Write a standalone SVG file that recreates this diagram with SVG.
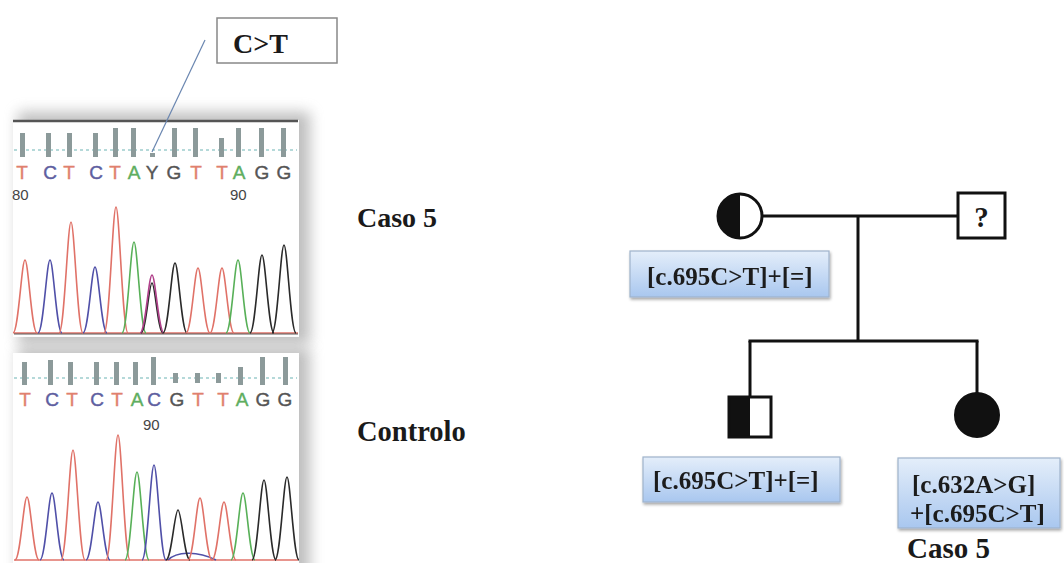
<svg xmlns="http://www.w3.org/2000/svg" xmlns:xlink="http://www.w3.org/1999/xlink" width="1064" height="563" viewBox="0 0 1064 563">
  <defs>
    <style>
      .serif { font-family: "Liberation Serif", "Times New Roman", serif; font-weight: bold; fill: #1a1a1a; }
      .base { font-family: "Liberation Sans", Arial, sans-serif; font-size: 19px; text-anchor: middle; stroke-width: 0.4; }
      .num { font-family: "Liberation Sans", Arial, sans-serif; font-size: 15px; fill: #444; }
      .bT { fill: #e0806e; stroke: #e0806e; } .bC { fill: #5e5ea0; stroke: #5e5ea0; } .bA { fill: #5fae5f; stroke: #5fae5f; } .bG { fill: #555; stroke: #555; }
      .pk { fill: none; stroke-width: 1.6; }
      .pR { stroke: #e07268; } .pB { stroke: #5050a8; } .pG { stroke: #58b058; } .pK { stroke: #2a2a2a; } .pM { stroke: #b0408a; }
      .bar { fill: #8c9a9a; }
      .dash { stroke: #6cb4b4; stroke-width: 1.2; stroke-dasharray: 3 3; }
      .ped { stroke: #111; stroke-width: 3; fill: none; }
      .lbl { fill: url(#lblFill); stroke: #9fb3cb; stroke-width: 1.2; }
    </style>
    <linearGradient id="lblFill" x1="0" y1="0" x2="0" y2="1">
      <stop offset="0" stop-color="#e4eefa"/>
      <stop offset="1" stop-color="#a9c7ef"/>
    </linearGradient>
    <filter id="soft" x="-20%" y="-20%" width="140%" height="140%">
      <feGaussianBlur stdDeviation="7"/>
    </filter>
    <filter id="lblShadow" x="-10%" y="-20%" width="120%" height="150%">
      <feGaussianBlur in="SourceAlpha" stdDeviation="1.5"/>
      <feOffset dx="1" dy="2"/>
      <feComponentTransfer><feFuncA type="linear" slope="0.35"/></feComponentTransfer>
      <feMerge><feMergeNode/><feMergeNode in="SourceGraphic"/></feMerge>
    </filter>
    <!-- unit trace peak: base at y=0, apex at (0,-1) -->
    <path id="pk" d="M-1,0 C-0.55,0 -0.28,-1 0,-1 C0.28,-1 0.55,0 1,0" vector-effect="non-scaling-stroke"/>
    <clipPath id="clipTop"><rect x="13" y="121" width="286" height="215"/></clipPath>
    <clipPath id="clipBot"><rect x="13" y="353" width="286" height="210"/></clipPath>
  </defs>

  <rect width="1064" height="563" fill="#ffffff"/>

  <!-- sequencing traces -->
  <g id="trace-caso5">
    <rect x="18" y="112" width="292" height="232" fill="#8a8a8a" opacity="0.55" filter="url(#soft)"/>
    <rect x="13" y="120" width="286" height="217" fill="#ffffff"/>
    <line x1="13" y1="121" x2="298" y2="121" stroke="#555" stroke-width="2.5"/>
    <line x1="14" y1="150" x2="297" y2="150" class="dash"/>
    <g>
      <rect class="bar" x="20" y="133" width="5" height="24"/>
      <rect class="bar" x="46" y="133" width="5" height="24"/>
      <rect class="bar" x="67" y="133" width="5" height="24"/>
      <rect class="bar" x="93" y="133" width="5" height="24"/>
      <rect class="bar" x="113" y="128" width="5" height="29"/>
      <rect class="bar" x="131" y="128" width="5" height="29"/>
      <rect class="bar" x="150" y="153" width="5" height="4"/>
      <rect class="bar" x="172" y="128" width="5" height="29"/>
      <rect class="bar" x="193" y="128" width="5" height="29"/>
      <rect class="bar" x="219" y="138" width="5" height="19"/>
      <rect class="bar" x="236" y="128" width="5" height="29"/>
      <rect class="bar" x="259" y="128" width="5" height="29"/>
      <rect class="bar" x="281" y="128" width="5" height="29"/>
    </g>
    <g class="base">
      <text x="22" y="179" class="bT">T</text>
      <text x="50" y="179" class="bC">C</text>
      <text x="69" y="179" class="bT">T</text>
      <text x="96" y="179" class="bC">C</text>
      <text x="115" y="179" class="bT">T</text>
      <text x="134" y="179" class="bA">A</text>
      <text x="152" y="179" class="bG">Y</text>
      <text x="174" y="179" class="bG">G</text>
      <text x="196" y="179" class="bT">T</text>
      <text x="222" y="179" class="bT">T</text>
      <text x="239" y="179" class="bA">A</text>
      <text x="262" y="179" class="bG">G</text>
      <text x="284" y="179" class="bG">G</text>
    </g>
    <text x="12" y="200" class="num">80</text>
    <text x="230" y="200" class="num">90</text>
    <g clip-path="url(#clipTop)">
      <line x1="14" y1="333" x2="298" y2="333" stroke="#e07268" stroke-width="1.6"/>
      <line x1="14" y1="334" x2="298" y2="334" stroke="#333" stroke-width="0.8"/>
      <use href="#pk" class="pk pR" transform="translate(25 333) scale(12 73)"/>
      <use href="#pk" class="pk pB" transform="translate(50 333) scale(12 73)"/>
      <use href="#pk" class="pk pR" transform="translate(71 333) scale(12 111)"/>
      <use href="#pk" class="pk pB" transform="translate(95 333) scale(12 66)"/>
      <use href="#pk" class="pk pR" transform="translate(116 333) scale(12 126)"/>
      <use href="#pk" class="pk pG" transform="translate(134 333) scale(12 91)"/>
      <use href="#pk" class="pk pK" transform="translate(152 333) scale(11 50)"/>
      <use href="#pk" class="pk pM" transform="translate(152 333) scale(12 58)"/>
      <use href="#pk" class="pk pK" transform="translate(175 333) scale(12 70)"/>
      <use href="#pk" class="pk pR" transform="translate(198 333) scale(12 65)"/>
      <use href="#pk" class="pk pR" transform="translate(222 333) scale(12 65)"/>
      <use href="#pk" class="pk pG" transform="translate(238 333) scale(12 73)"/>
      <use href="#pk" class="pk pK" transform="translate(262 333) scale(12 78)"/>
      <use href="#pk" class="pk pK" transform="translate(284 333) scale(12 88)"/>
    </g>
  </g>

  <g id="trace-controlo">
    <rect x="18" y="348" width="292" height="230" fill="#8a8a8a" opacity="0.55" filter="url(#soft)"/>
    <rect x="13" y="353" width="286" height="210" fill="#ffffff"/>
    <line x1="14" y1="378" x2="297" y2="378" class="dash"/>
    <g>
      <rect class="bar" x="22" y="362" width="5" height="23"/>
      <rect class="bar" x="48" y="360" width="5" height="25"/>
      <rect class="bar" x="68" y="362" width="5" height="23"/>
      <rect class="bar" x="94" y="362" width="5" height="23"/>
      <rect class="bar" x="114" y="362" width="5" height="23"/>
      <rect class="bar" x="133" y="362" width="5" height="23"/>
      <rect class="bar" x="151" y="357" width="5" height="28"/>
      <rect class="bar" x="173" y="373" width="5" height="10"/>
      <rect class="bar" x="195" y="373" width="5" height="10"/>
      <rect class="bar" x="216" y="373" width="5" height="10"/>
      <rect class="bar" x="238" y="367" width="5" height="18"/>
      <rect class="bar" x="260" y="357" width="5" height="28"/>
      <rect class="bar" x="283" y="357" width="5" height="28"/>
    </g>
    <g class="base">
      <text x="25" y="406" class="bT">T</text>
      <text x="52" y="406" class="bC">C</text>
      <text x="72" y="406" class="bT">T</text>
      <text x="97" y="406" class="bC">C</text>
      <text x="117" y="406" class="bT">T</text>
      <text x="137" y="406" class="bA">A</text>
      <text x="154" y="406" class="bC">C</text>
      <text x="177" y="406" class="bG">G</text>
      <text x="198" y="406" class="bT">T</text>
      <text x="223" y="406" class="bT">T</text>
      <text x="242" y="406" class="bA">A</text>
      <text x="263" y="406" class="bG">G</text>
      <text x="285" y="406" class="bG">G</text>
    </g>
    <text x="143" y="430" class="num">90</text>
    <g clip-path="url(#clipBot)">
      <line x1="14" y1="560" x2="298" y2="560" stroke="#e07268" stroke-width="1.6"/>
      <path d="M168,560 C176,552 196,550 216,560" class="pk pB"/>
      <use href="#pk" class="pk pR" transform="translate(27 560) scale(12 63)"/>
      <use href="#pk" class="pk pB" transform="translate(52 560) scale(12 67)"/>
      <use href="#pk" class="pk pR" transform="translate(73 560) scale(12 110)"/>
      <use href="#pk" class="pk pB" transform="translate(98 560) scale(12 58)"/>
      <use href="#pk" class="pk pR" transform="translate(118 560) scale(12 125)"/>
      <use href="#pk" class="pk pG" transform="translate(137 560) scale(12 88)"/>
      <use href="#pk" class="pk pB" transform="translate(154 560) scale(12 95)"/>
      <use href="#pk" class="pk pK" transform="translate(178 560) scale(12 50)"/>
      <use href="#pk" class="pk pR" transform="translate(200 560) scale(12 62)"/>
      <use href="#pk" class="pk pR" transform="translate(224 560) scale(12 58)"/>
      <use href="#pk" class="pk pG" transform="translate(243 560) scale(12 67)"/>
      <use href="#pk" class="pk pK" transform="translate(264 560) scale(12 80)"/>
      <use href="#pk" class="pk pK" transform="translate(287 560) scale(12 83)"/>
    </g>
  </g>

  <!-- variant callout -->
  <g id="callout-ct">
    <line x1="205" y1="40" x2="152" y2="152" stroke="#6a86b0" stroke-width="1.2"/>
    <rect x="217" y="18" width="120" height="45" fill="#ffffff" stroke="#888" stroke-width="1.5"/>
    <text x="233" y="53" class="serif" font-size="28">C&gt;T</text>
  </g>

  <g id="label-caso5-trace"><text x="357" y="227" class="serif" font-size="28">Caso 5</text></g>
  <g id="label-controlo"><text x="357" y="441" class="serif" font-size="28.5">Controlo</text></g>

  <!-- pedigree connectors -->
  <g id="connectors" class="ped">
    <line x1="762" y1="216" x2="958" y2="216"/>
    <line x1="858" y1="216" x2="858" y2="341"/>
    <line x1="748.5" y1="341" x2="978.5" y2="341"/>
    <line x1="750" y1="341" x2="750" y2="397"/>
    <line x1="977" y1="341" x2="977" y2="393"/>
  </g>

  <g id="mother">
    <path d="M740,194 A22,22 0 0 0 740,238 Z" fill="#111"/>
    <circle cx="740" cy="216" r="22" class="ped"/>
  </g>
  <g id="father">
    <rect x="958" y="193" width="47" height="45" fill="#fff" class="ped"/>
    <text x="981.5" y="227" class="serif" font-size="29" text-anchor="middle">?</text>
  </g>
  <g id="son">
    <rect x="729" y="397" width="21" height="40" fill="#111"/>
    <rect x="729" y="397" width="42" height="40" class="ped"/>
  </g>
  <g id="daughter">
    <circle cx="977" cy="415" r="22" fill="#111" stroke="#111" stroke-width="2"/>
  </g>

  <!-- genotype labels -->
  <g id="geno-mother" filter="url(#lblShadow)">
    <rect x="630" y="251" width="199" height="46" class="lbl"/>
    <text x="647" y="285" class="serif" font-size="25">[c.695C&gt;T]+[=]</text>
  </g>
  <g id="geno-son" filter="url(#lblShadow)">
    <rect x="643" y="457" width="197" height="45" class="lbl"/>
    <text x="653" y="489" class="serif" font-size="25">[c.695C&gt;T]+[=]</text>
  </g>
  <g id="geno-daughter" filter="url(#lblShadow)">
    <rect x="898" y="458" width="162" height="70" class="lbl"/>
    <text x="912" y="493" class="serif" font-size="25">[c.632A&gt;G]</text>
    <text x="910" y="522" class="serif" font-size="25">+[c.695C&gt;T]</text>
  </g>
  <g id="label-caso5-pedigree"><text x="907" y="558" class="serif" font-size="29">Caso 5</text></g>
</svg>
